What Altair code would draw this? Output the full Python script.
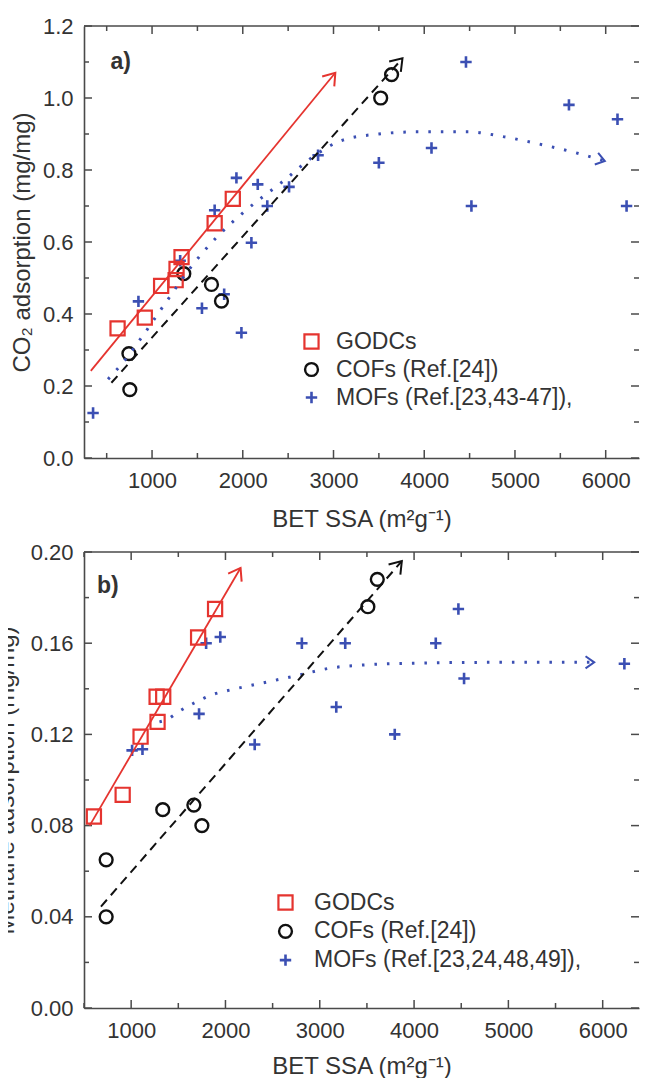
import math
import altair as alt
import pandas as pd

# ---------------- panel a) CO2 adsorption ----------------
a_names = ["GODCs", "COFs (Ref.[24])", "MOFs (Ref.[23,43-47]),"]
a_godc_x = [620, 920, 1100, 1260, 1270, 1325, 1690, 1890]
a_godc_y = [0.36, 0.39, 0.478, 0.494, 0.525, 0.558, 0.652, 0.72]
a_cof_x = [745, 755, 1350, 1655, 1765, 3520, 3640]
a_cof_y = [0.29, 0.19, 0.512, 0.482, 0.436, 1.00, 1.065]
a_mof_x = [350, 850, 1310, 1550, 1690, 1795, 1930, 1985, 2095, 2165, 2270,
           2510, 2830, 3500, 4080, 4460, 4520, 5595, 6130, 6230]
a_mof_y = [0.125, 0.435, 0.548, 0.416, 0.688, 0.455, 0.778, 0.348, 0.598, 0.76,
           0.70, 0.753, 0.841, 0.82, 0.861, 1.10, 0.70, 0.981, 0.941, 0.70]
a_red_x = [325, 3020]
a_red_y = [0.242, 1.07]
a_blk_x = [552, 3760]
a_blk_y = [0.209, 1.11]
a_blu_x = [515, 662, 882, 1157, 1452, 1727, 2002, 2455, 2820, 3090, 3500,
           3930, 4480, 4884, 5306, 5728, 5990]
a_blu_y = [0.219, 0.26, 0.334, 0.434, 0.538, 0.617, 0.681, 0.771, 0.845, 0.882,
           0.90, 0.906, 0.906, 0.892, 0.870, 0.844, 0.825]
a_xdom = [250, 6367]
a_ydom = [0.0, 1.2]
a_y_major = [0.0, 0.2, 0.4, 0.6, 0.8, 1.0, 1.2]
a_y_minor = [0.1, 0.3, 0.5, 0.7, 0.9, 1.1]

# ---------------- panel b) Methane adsorption ----------------
b_names = ["GODCs", "COFs (Ref.[24])", "MOFs (Ref.[23,24,48,49]),"]
b_godc_x = [605, 910, 1100, 1270, 1280, 1340, 1710, 1890]
b_godc_y = [0.084, 0.0935, 0.119, 0.1365, 0.1255, 0.1365, 0.1625, 0.175]
b_cof_x = [735, 735, 1335, 1665, 1750, 3510, 3610]
b_cof_y = [0.065, 0.040, 0.087, 0.089, 0.080, 0.176, 0.188]
b_mof_x = [1010, 1120, 1720, 1795, 1945, 2310, 2810, 3175, 3270, 3795, 4230,
           4470, 4530, 6230]
b_mof_y = [0.113, 0.1135, 0.129, 0.160, 0.1627, 0.1156, 0.160, 0.132, 0.160,
           0.120, 0.160, 0.175, 0.1445, 0.151]
b_red_x = [560, 2160]
b_red_y = [0.080, 0.193]
b_blk_x = [680, 3870]
b_blk_y = [0.0445, 0.196]
b_blu_x = [1300, 1380, 1505, 1680, 1860, 2050, 2250, 2500, 2780, 3100, 3530,
           3970, 4840, 5910]
b_blu_y = [0.1255, 0.1265, 0.130, 0.134, 0.1374, 0.1395, 0.1413, 0.1435, 0.146,
           0.149, 0.1506, 0.1512, 0.1516, 0.1516]
b_xdom = [500, 6385]
b_ydom = [0.0, 0.20]
b_y_major = [0.0, 0.04, 0.08, 0.12, 0.16, 0.20]
b_y_minor = [0.02, 0.06, 0.10, 0.14, 0.18]

x_major = [1000, 2000, 3000, 4000, 5000, 6000]
x_minor = [500, 1500, 2500, 3500, 4500, 5500]

# ---------------- style ----------------
FONT = "Liberation Sans"
TXT = "#333333"
AXC = "#4a4a4a"
RED = "#e5342f"
BLACK = "#111111"
BLUE = "#3b4fb3"
PLUS = "M-1,0L1,0M0,-1L0,1"
CHEV = "M-1,-0.7L0,0L-1,0.7"
W = 555
MAJ, MIN = 8, 5
XTITLE = "BET SSA (m²g⁻¹)"


def panel(names, gx, gy, cx, cy, mx, my, red, blk, blu, xdom, ydom, H,
          ymaj, ymin, yfmt, ytitle, ytp, xtp, legx, legy, legoff, legpad,
          label, labx, laby):
    xs = alt.Scale(domain=xdom, nice=False, zero=False)
    ys = alt.Scale(domain=ydom, nice=False, zero=False)

    xlab = alt.Axis(orient="bottom", values=x_major, format="d", ticks=False,
                    tickSize=0, domain=True, grid=False, labelPadding=12,
                    titlePadding=xtp)
    ylab = alt.Axis(orient="left", values=ymaj, format=yfmt, ticks=False,
                    tickSize=0, domain=True, grid=False, labelPadding=11,
                    titlePadding=ytp)

    def X(f):
        return alt.X(f + ":Q", scale=xs, axis=xlab, title=XTITLE)

    def Y(f):
        return alt.Y(f + ":Q", scale=ys, axis=ylab, title=ytitle)

    df_pts = pd.DataFrame({
        "x": list(mx) + list(cx) + list(gx),
        "y": list(my) + list(cy) + list(gy),
        "s": [names[2]] * len(mx) + [names[1]] * len(cx) + [names[0]] * len(gx),
    })
    leg = alt.Legend(orient="none", legendX=legx, legendY=legy, title=None,
                     labelFont=FONT, labelFontSize=23, labelColor=TXT,
                     labelLimit=400, symbolSize=80, symbolStrokeWidth=1.8,
                     rowPadding=legpad, labelOffset=legoff, padding=0)
    points = alt.Chart(df_pts).mark_point(filled=False, opacity=1).encode(
        x=X("x"), y=Y("y"),
        color=alt.Color("s:N", scale=alt.Scale(domain=names, range=[RED, BLACK, BLUE]), legend=leg),
        shape=alt.Shape("s:N", scale=alt.Scale(domain=names, range=["square", "circle", PLUS]), legend=leg),
        size=alt.Size("s:N", scale=alt.Scale(domain=names, range=[200, 130, 280]), legend=None),
        strokeWidth=alt.StrokeWidth("s:N", scale=alt.Scale(domain=names, range=[2.2, 2.6, 3.0]), legend=None),
    )

    red_line = alt.Chart(pd.DataFrame({"x": red[0], "y": red[1]})).mark_line(
        color=RED, strokeWidth=1.8).encode(x=X("x"), y=Y("y"))
    blk_line = alt.Chart(pd.DataFrame({"x": blk[0], "y": blk[1]})).mark_line(
        color=BLACK, strokeWidth=2, strokeDash=[9, 6]).encode(x=X("x"), y=Y("y"))
    blu_line = alt.Chart(pd.DataFrame({"x": blu[0], "y": blu[1]})).mark_line(
        color=BLUE, strokeWidth=3, strokeDash=[2.5, 10], interpolate="monotone").encode(x=X("x"), y=Y("y"))

    # arrow heads at the end of each trend line, oriented along the line
    ax_, ay_, aa_, ac_, as_ = [], [], [], [], []
    for (lx, ly), col, sz in ((red, RED, 500), (blk, BLACK, 500), (blu, BLUE, 300)):
        x0, y0, x1, y1 = lx[-2], ly[-2], lx[-1], ly[-1]
        dxp = (x1 - x0) / (xdom[1] - xdom[0]) * W
        dyp = (y1 - y0) / (ydom[1] - ydom[0]) * H
        ax_.append(x1)
        ay_.append(y1)
        aa_.append(math.degrees(math.atan2(-dyp, dxp)) % 360)
        ac_.append(col)
        as_.append(sz)
    arrows = alt.Chart(pd.DataFrame({"x": ax_, "y": ay_, "a": aa_, "c": ac_, "sz": as_})).mark_point(
        shape=CHEV, filled=False, strokeWidth=2, opacity=1).encode(
        x=X("x"), y=Y("y"),
        angle=alt.Angle("a:Q", scale=None),
        color=alt.Color("c:N", scale=None),
        size=alt.Size("sz:Q", scale=None))

    # inward ticks on all four sides (Origin style) + top frame line
    xt_maj = pd.DataFrame({"v": x_major})
    xt_min = pd.DataFrame({"v": x_minor})
    yt_maj = pd.DataFrame({"v": ymaj})
    yt_min = pd.DataFrame({"v": ymin})
    rule = dict(color=AXC, strokeWidth=1.5)
    ticks = []
    for df, L in ((xt_maj, MAJ), (xt_min, MIN)):
        ticks.append(alt.Chart(df).mark_rule(**rule).encode(
            x=X("v"), y=alt.value(H), y2=alt.value(H - L)))
        ticks.append(alt.Chart(df).mark_rule(**rule).encode(
            x=X("v"), y=alt.value(0), y2=alt.value(L)))
    for df, L in ((yt_maj, MAJ), (yt_min, MIN)):
        ticks.append(alt.Chart(df).mark_rule(**rule).encode(
            y=Y("v"), x=alt.value(0), x2=alt.value(L)))
        ticks.append(alt.Chart(df).mark_rule(**rule).encode(
            y=Y("v"), x=alt.value(W), x2=alt.value(W - L)))
    frame_top = alt.Chart(pd.DataFrame({"v": [0]})).mark_rule(
        color=AXC, strokeWidth=1.6).encode(
        x=alt.value(0), x2=alt.value(W), y=alt.value(0))

    lab = alt.Chart(pd.DataFrame({"t": [label]})).mark_text(
        align="left", baseline="middle", font=FONT, fontSize=23,
        fontWeight="bold", color=TXT).encode(
        x=alt.value(labx), y=alt.value(laby), text="t:N")

    return alt.layer(points, *ticks, frame_top, blu_line, blk_line, red_line,
                     arrows, lab).properties(width=W, height=H)


top = panel(a_names, a_godc_x, a_godc_y, a_cof_x, a_cof_y, a_mof_x, a_mof_y,
            (a_red_x, a_red_y), (a_blk_x, a_blk_y), (a_blu_x, a_blu_y),
            a_xdom, a_ydom, 432, a_y_major, a_y_minor, ".1f",
            "CO₂ adsorption (mg/mg)", 7.5, 16, 216, 304, 13, 4, "a)", 26.5, 36)
bottom = panel(b_names, b_godc_x, b_godc_y, b_cof_x, b_cof_y, b_mof_x, b_mof_y,
               (b_red_x, b_red_y), (b_blk_x, b_blk_y), (b_blu_x, b_blu_y),
               b_xdom, b_ydom, 456, b_y_major, b_y_minor, ".2f",
               "Methane adsorption (mg/mg)", 12, 13, 190, 339, 17, 4.8, "b)", 13, 34)

chart = alt.vconcat(top, bottom, spacing=10).resolve_scale(
    color="independent", shape="independent", size="independent",
    strokeWidth="independent").properties(
    padding={"left": -14, "top": 7, "right": 0, "bottom": 0},
    background="white",
).configure_view(strokeWidth=0).configure_axis(
    labelFont=FONT, titleFont=FONT, labelFontSize=22, titleFontSize=24,
    labelColor=TXT, titleColor=TXT, domainColor=AXC, domainWidth=1.6,
    titleFontWeight="normal", grid=False)

chart.save("out.html", embed_options={"renderer": "svg", "actions": False})
